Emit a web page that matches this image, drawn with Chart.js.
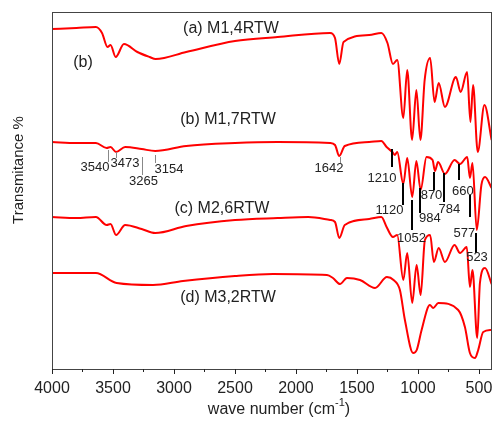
<!DOCTYPE html>
<html>
<head>
<meta charset="utf-8">
<script src="https://cdn.jsdelivr.net/npm/chart.js@4.4.0/dist/chart.umd.min.js"></script>
<style>
    html, body { margin: 0; padding: 0; background: #fff; }
</style>
</head>
<body>
<canvas id="ftir" width="495" height="426"></canvas>
<script>
// FTIR spectra, offset vertically (arbitrary transmittance units)
const wnA = [4000, 3800, 3640, 3590, 3545, 3520, 3478, 3410, 3300, 3200, 3150, 2900, 2500, 2150, 1720, 1680, 1645, 1610, 1400, 1300, 1250, 1205, 1170, 1120, 1088, 1048, 1013, 980, 945, 900, 864, 830, 779, 689, 650, 597, 570, 548, 510, 455, 396];
const tA = [340, 341, 342, 336, 322, 324, 312, 325, 317, 312, 310, 317, 328, 332, 336, 331, 305, 327, 334, 336, 326, 305, 309, 251, 299, 229, 279, 229, 289, 311, 267, 286, 262, 292, 277, 297, 247, 284, 217, 264, 229];

const wnB = [4000, 3800, 3640, 3552, 3520, 3475, 3400, 3265, 3154, 2900, 2500, 2150, 1720, 1680, 1645, 1600, 1400, 1300, 1257, 1210, 1190, 1170, 1120, 1088, 1047, 1013, 978, 930, 880, 861, 835, 779, 700, 655, 596, 574, 553, 518, 480, 450, 396];
const tB = [227, 226, 226, 221, 222, 217, 222, 220, 218, 223, 226, 227, 226, 224, 213, 223, 227, 228, 222, 217, 214, 217, 185, 211, 172, 208, 179, 212, 209, 198, 207, 195, 209, 205, 212, 191, 206, 139, 184, 192, 181];

const wnC = [4000, 3800, 3640, 3552, 3520, 3475, 3400, 3265, 3154, 2900, 2500, 2150, 1900, 1720, 1680, 1645, 1600, 1400, 1300, 1257, 1205, 1170, 1120, 1088, 1047, 1011, 978, 943, 900, 870, 830, 779, 700, 655, 600, 574, 553, 514, 492, 450, 396];
const tC = [152, 151, 152, 144, 145, 134, 144, 140, 136, 143, 149, 151, 152, 149, 147, 131, 144, 150, 152, 142, 132, 134, 89, 116, 66, 104, 74, 129, 134, 107, 121, 107, 124, 116, 122, 82, 99, 31, 86, 101, 85];

const wnD = [4000, 3640, 3470, 3172, 2926, 2500, 2189, 1746, 1697, 1639, 1582, 1475, 1352, 1254, 1200, 1148, 1107, 1039, 1010, 970, 902, 875, 833, 670, 615, 574, 533, 506, 465, 396];
const tD = [96, 96, 86, 84, 88, 93, 95, 94, 91, 85, 91, 89, 81, 92, 89, 79, 49, 16, 19, 39, 64, 61, 66, 59, 42, 16, 11, 19, 37, 39];

const xTicks = [4000, 3500, 3000, 2500, 2000, 1500, 1000, 500];
const seriesNames = ['(a) M1,4RTW', '(b) M1,7RTW', '(c) M2,6RTW', '(d) M3,2RTW'];

// peak assignments marked on spectrum (b)
const peakWn = [3540, 3473, 3265, 3154, 1642, 1210, 1120, 1052, 984, 870, 784, 660, 577, 523];

// layout of the marks, in axis units: tick top/bottom, text x/y, heavy tick?
const peakLayout = [
    [219, 207, 3648, 202, false],
    [217, 211, 3402, 206, false],
    [212, 194, 3250, 188, false],
    [214, 206, 3041, 200, false],
    [212, 206, 1730, 201, false],
    [220, 202, 1295, 191, true],
    [186, 164, 1234, 159, true],
    [169, 139, 1053, 131, true],
    [181, 156, 902, 151, true],
    [197, 179, 889, 174, true],
    [196, 167, 742, 160, true],
    [205, 189, 631, 178, true],
    [174, 152, 619, 136, true],
    [136, 116, 516, 112, true]
];
const nameLayout = [[2533, 340], [2557, 249], [2607, 160], [2557, 71]];

const FONT = '"Liberation Sans", Arial, sans-serif';
const toPoints = (xs, ys) => xs.map((v, i) => ({ x: v, y: ys[i] }));

const ftirDecor = {
    id: 'ftirDecor',
    afterDraw(chart) {
        const { ctx, chartArea: a, scales: { x, y } } = chart;
        ctx.save();

        // frame
        ctx.strokeStyle = '#444';
        ctx.lineWidth = 1;
        ctx.strokeRect(a.left + 0.5, a.top + 0.5, a.right - a.left - 1, a.bottom - a.top);

        // major / minor ticks, outward
        ctx.strokeStyle = '#222';
        for (let v = 4000; v >= 500; v -= 250) {
            const px = Math.round(x.getPixelForValue(v)) + 0.5;
            const len = v % 500 === 0 ? 5 : 3;
            ctx.beginPath();
            ctx.moveTo(px, a.bottom);
            ctx.lineTo(px, a.bottom + len);
            ctx.stroke();
        }

        ctx.fillStyle = '#222';
        ctx.textAlign = 'center';
        ctx.textBaseline = 'middle';

        // series names
        ctx.font = '16px ' + FONT;
        seriesNames.forEach((name, i) => {
            ctx.fillText(name, x.getPixelForValue(nameLayout[i][0]), y.getPixelForValue(nameLayout[i][1]));
        });
        ctx.fillText('(b)', x.getPixelForValue(3746), y.getPixelForValue(306));

        // peak marks
        ctx.font = '13px ' + FONT;
        peakWn.forEach((wn, i) => {
            const [y1, y2, tx, ty, heavy] = peakLayout[i];
            const px = Math.round(x.getPixelForValue(wn)) + (heavy ? 0 : 0.5);
            ctx.strokeStyle = heavy ? '#000' : '#888';
            ctx.lineWidth = heavy ? 2 : 1;
            ctx.beginPath();
            ctx.moveTo(px, y.getPixelForValue(y1));
            ctx.lineTo(px, y.getPixelForValue(y2));
            ctx.stroke();
            ctx.fillText(String(wn), x.getPixelForValue(tx), y.getPixelForValue(ty));
        });

        // x title with superscript
        ctx.textAlign = 'left';
        ctx.font = '16px ' + FONT;
        const t1 = 'wave number (cm', t3 = ')';
        const w1 = ctx.measureText(t1).width, w3 = ctx.measureText(t3).width;
        ctx.font = '11px ' + FONT;
        const w2 = ctx.measureText('-1').width;
        let sx = 279 - (w1 + w2 + w3) / 2;
        ctx.font = '16px ' + FONT;
        ctx.fillText(t1, sx, 410);
        ctx.font = '11px ' + FONT;
        ctx.fillText('-1', sx + w1, 403);
        ctx.font = '16px ' + FONT;
        ctx.fillText(t3, sx + w1 + w2, 410);

        // y title
        ctx.translate(19, 170);
        ctx.rotate(-Math.PI / 2);
        ctx.textAlign = 'center';
        ctx.font = '15px ' + FONT;
        ctx.fillText('Transmitance %', 0, 0);

        ctx.restore();
    }
};

const lineStyle = {
    borderColor: '#ff0000',
    borderWidth: 2,
    pointRadius: 0,
    fill: false,
    cubicInterpolationMode: 'monotone'
};

new Chart(document.getElementById('ftir'), {
    type: 'line',
    data: {
        datasets: [
            { label: seriesNames[0], data: toPoints(wnA, tA), ...lineStyle },
            { label: seriesNames[1], data: toPoints(wnB, tB), ...lineStyle },
            { label: seriesNames[2], data: toPoints(wnC, tC), ...lineStyle },
            { label: seriesNames[3], data: toPoints(wnD, tD), ...lineStyle }
        ]
    },
    options: {
        responsive: false,
        devicePixelRatio: 1,
        animation: false,
        layout: { padding: { left: 52, right: 3, top: 12, bottom: 0 } },
        plugins: { legend: { display: false }, tooltip: { enabled: false } },
        scales: {
            x: {
                type: 'linear',
                reverse: true,
                min: 393,
                max: 4000,
                afterBuildTicks: (s) => { s.ticks = xTicks.map(v => ({ value: v })); },
                afterFit: (s) => { s.height = 57; s.paddingLeft = 0; s.paddingRight = 0; },
                grid: { display: false, drawTicks: false },
                border: { display: false },
                ticks: {
                    color: '#222',
                    font: { size: 16, family: FONT },
                    padding: 10,
                    maxRotation: 0,
                    autoSkip: false,
                    callback: (v) => String(v)
                }
            },
            y: { display: false, min: 0, max: 357 }
        }
    },
    plugins: [ftirDecor]
});
</script>
</body>
</html>
